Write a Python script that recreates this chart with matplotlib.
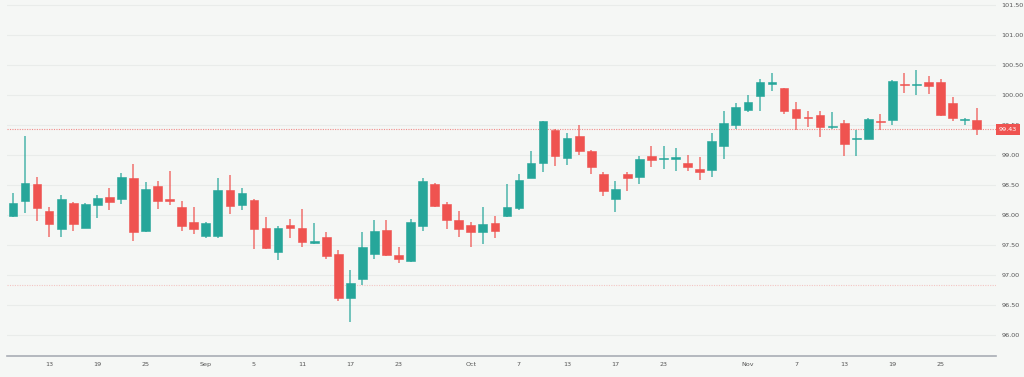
import numpy as np
import matplotlib.pyplot as plt

# Daily OHLC values
opens = [97.99, 98.24, 98.52, 98.06, 97.76, 98.20, 97.79, 98.16, 98.30, 98.26,
         98.62, 97.73, 98.48, 98.26, 98.13, 97.88, 97.65, 97.65, 98.41, 98.16,
         98.25, 97.79, 97.39, 97.84, 97.79, 97.53, 97.63, 97.35, 96.61, 96.93,
         97.35, 97.75, 97.33, 97.24, 97.82, 98.51, 98.19, 97.92, 97.83, 97.71,
         97.87, 97.98, 98.11, 98.62, 98.86, 99.41, 98.95, 99.32, 99.07, 98.69,
         98.27, 98.69, 98.63, 98.98, 98.93, 98.94, 98.86, 98.76, 98.75, 99.15,
         99.50, 99.75, 99.98, 100.18, 100.11, 99.77, 99.64, 99.67, 99.47, 99.53,
         99.27, 99.27, 99.57, 99.58, 100.18, 100.17, 100.21, 100.22, 99.86, 99.58,
         99.58]
highs = [98.37, 99.32, 98.63, 98.14, 98.33, 98.22, 98.20, 98.33, 98.45, 98.70,
         98.85, 98.55, 98.56, 98.74, 98.24, 98.14, 97.89, 98.62, 98.66, 98.45,
         98.27, 97.96, 97.82, 97.94, 98.10, 97.87, 97.71, 97.41, 97.08, 97.71,
         97.91, 97.92, 97.46, 97.93, 98.62, 98.54, 98.21, 98.07, 97.89, 98.14,
         97.98, 98.51, 98.68, 99.07, 99.57, 99.44, 99.36, 99.50, 99.09, 98.72,
         98.57, 98.71, 98.98, 99.15, 99.15, 99.11, 99.00, 98.96, 99.37, 99.73,
         99.86, 100.00, 100.26, 100.36, 100.11, 99.88, 99.74, 99.73, 99.71, 99.59,
         99.42, 99.61, 99.68, 100.25, 100.36, 100.41, 100.31, 100.26, 99.97, 99.62,
         99.78]
lows = [97.97, 98.04, 97.90, 97.63, 97.63, 97.74, 97.78, 97.95, 98.08, 98.19,
        97.56, 97.71, 98.10, 98.17, 97.74, 97.69, 97.62, 97.62, 98.02, 98.08,
        97.43, 97.43, 97.25, 97.61, 97.47, 97.51, 97.27, 96.56, 96.22, 96.84,
        97.27, 97.31, 97.20, 97.22, 97.74, 98.14, 97.76, 97.63, 97.47, 97.52,
        97.61, 97.96, 98.09, 98.61, 98.71, 98.82, 98.83, 99.00, 98.68, 98.32,
        98.05, 98.40, 98.51, 98.80, 98.76, 98.74, 98.74, 98.58, 98.63, 98.93,
        99.43, 99.71, 99.74, 100.07, 99.68, 99.42, 99.46, 99.30, 99.43, 98.99,
        98.99, 99.26, 99.42, 99.50, 100.03, 100.00, 100.01, 99.65, 99.56, 99.50,
        99.33]
closes = [98.20, 98.53, 98.11, 97.85, 98.26, 97.85, 98.18, 98.28, 98.22, 98.63,
          97.72, 98.44, 98.24, 98.24, 97.81, 97.77, 97.87, 98.41, 98.15, 98.36,
          97.77, 97.45, 97.79, 97.79, 97.55, 97.56, 97.31, 96.62, 96.87, 97.46,
          97.74, 97.33, 97.26, 97.88, 98.56, 98.15, 97.91, 97.77, 97.71, 97.85,
          97.73, 98.13, 98.59, 98.86, 99.56, 98.98, 99.29, 99.06, 98.80, 98.40,
          98.44, 98.61, 98.94, 98.92, 98.95, 98.97, 98.80, 98.71, 99.23, 99.54,
          99.80, 99.88, 100.22, 100.21, 99.73, 99.61, 99.62, 99.47, 99.49, 99.18,
          99.29, 99.60, 99.55, 100.23, 100.16, 100.19, 100.15, 99.66, 99.61, 99.60,
          99.43]

tick_pos = [3, 7, 11, 16, 20, 24, 28, 32, 38, 42, 46, 50, 54, 61, 65, 69, 73, 77]
tick_labels = ['13', '19', '25', 'Sep', '5', '11', '17', '23', 'Oct', '7', '13',
               '17', '23', 'Nov', '7', '13', '19', '25']

last_price = 99.43
ref_level = 96.83

up_col = '#26a69a'
down_col = '#ef5350'
bg = '#f5f7f5'

fig = plt.figure(figsize=(10.24, 3.77), dpi=100, facecolor=bg)
ax = fig.add_axes([7/1024, 21/377, 989/1024, 356/377], facecolor=bg)

x = np.arange(len(closes))
for i in x:
    o, h, l, c = opens[i], highs[i], lows[i], closes[i]
    col = up_col if c >= o else down_col
    ax.vlines(i, l, h, color=col, linewidth=1.2, alpha=0.75, zorder=2)
    lo, hi = min(o, c), max(o, c)
    ax.bar(i, max(hi - lo, 0.02), bottom=lo, width=0.72, color=col,
           edgecolor=col, linewidth=0.4, zorder=3)

# price line and faint reference line
ax.axhline(last_price, color=down_col, linestyle=(0, (1, 1.2)), linewidth=0.8, alpha=0.65, zorder=1)
ax.axhline(ref_level, color=down_col, linestyle=(0, (1, 1.2)), linewidth=0.8, alpha=0.3, zorder=1)

ax.set_xlim(-0.5, 81.6)
ax.set_ylim(95.65, 101.583)
ax.set_yticks(np.arange(96.0, 101.51, 0.5))
ax.set_yticklabels([f'{v:.2f}' for v in np.arange(96.0, 101.51, 0.5)])
ax.yaxis.tick_right()
ax.tick_params(axis='y', length=0, pad=4, labelsize=4.6, labelcolor='#555555')
ax.set_xticks(tick_pos)
ax.set_xticklabels(tick_labels)
ax.tick_params(axis='x', length=0, pad=4, labelsize=4.6, labelcolor='#555555')
ax.grid(axis='y', color='#e9ecea', linewidth=0.8)
ax.set_axisbelow(True)

for s in ['top', 'left', 'right']:
    ax.spines[s].set_visible(False)
ax.spines['bottom'].set_color('#a9adb5')
ax.spines['bottom'].set_linewidth(1.2)

# last price tag
ax.text(1.003, last_price, f'{last_price:.2f}', transform=ax.get_yaxis_transform(),
        ha='left', va='center', fontsize=4.6, color='white', zorder=5, clip_on=False,
        bbox=dict(boxstyle='square,pad=0.45', facecolor=down_col, edgecolor='none'))

plt.savefig('out.png', dpi=100, facecolor=bg)
